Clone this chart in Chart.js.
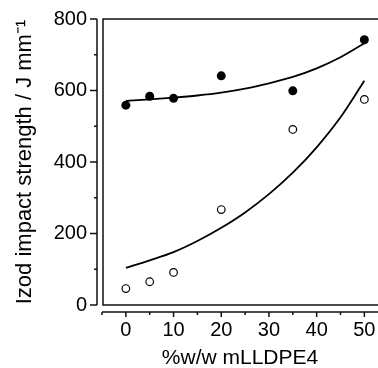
<!DOCTYPE html>
<html>
<head>
<meta charset="utf-8">
<script src="https://cdn.jsdelivr.net/npm/chart.js@4/dist/chart.umd.min.js"></script>
<style>
    html, body { margin: 0; padding: 0; background: #fff; }
    #wrap { width: 378px; height: 368px; }
</style>
</head>
<body>
<div id="wrap"><canvas id="izodChart" width="378" height="368"></canvas></div>
<script>
// measured points (filled = one series, open = the other)
const contentX = [0, 5, 10, 20, 35, 50];
const filledStrength = [559, 584, 578, 641, 599, 742];
const openStrength = [46, 65, 91, 267, 491, 575];

// fitted curves
const fitX = [0, 5, 10, 15, 20, 25, 30, 35, 40, 45, 50];
const fitUpper = [571, 575, 580, 586, 594, 605, 620, 638, 662, 693, 732];
const fitLower = [104, 125, 148, 179, 216, 259, 310, 370, 441, 525, 627];

// axis ticks
const xMajorTicks = [0, 10, 20, 30, 40, 50];
const xMinorTicks = [-5, 5, 15, 25, 35, 45];
const yMajorTicks = [0, 200, 400, 600, 800];
const yMinorTicks = [100, 300, 500, 700];

const xTitle = '%w/w mLLDPE4';
const yTitle = 'Izod impact strength / J mm\u207B\u00B9';

Chart.defaults.font.family = "'Liberation Sans', Arial, Helvetica, sans-serif";
Chart.defaults.color = '#000';

function toPoints(xs, ys) {
    return xs.map(function (x, i) { return { x: x, y: ys[i] }; });
}

// frame plus the offset axis lines and tick marks
const offsetAxes = {
    id: 'offsetAxes',
    afterDraw: function (chart) {
        const ctx = chart.ctx;
        const area = chart.chartArea;
        const xs = chart.scales.x;
        const ys = chart.scales.y;
        const spineX = area.left - 5;
        const spineY = area.bottom + 7;

        ctx.save();
        ctx.strokeStyle = '#111';
        ctx.lineWidth = 1.5;

        // box
        ctx.beginPath();
        ctx.moveTo(area.right, area.top);
        ctx.lineTo(area.left + 1, area.top);
        ctx.lineTo(area.left + 1, area.bottom);
        ctx.lineTo(area.right, area.bottom);
        ctx.stroke();

        // y spine
        ctx.beginPath();
        ctx.moveTo(spineX, ys.getPixelForValue(800));
        ctx.lineTo(spineX, ys.getPixelForValue(0));
        yMajorTicks.forEach(function (v) {
            const p = ys.getPixelForValue(v);
            ctx.moveTo(spineX, p);
            ctx.lineTo(spineX - 7, p);
        });
        yMinorTicks.forEach(function (v) {
            const p = ys.getPixelForValue(v);
            ctx.moveTo(spineX, p);
            ctx.lineTo(spineX - 3, p);
        });
        ctx.stroke();

        // x spine
        ctx.beginPath();
        ctx.moveTo(xs.getPixelForValue(-5), spineY);
        ctx.lineTo(area.right, spineY);
        xMajorTicks.forEach(function (v) {
            const p = xs.getPixelForValue(v);
            ctx.moveTo(p, spineY);
            ctx.lineTo(p, spineY + 5);
        });
        xMinorTicks.forEach(function (v) {
            const p = xs.getPixelForValue(v);
            ctx.moveTo(p, spineY);
            ctx.lineTo(p, spineY + 3);
        });
        ctx.stroke();
        ctx.restore();
    }
};

new Chart(document.getElementById('izodChart'), {
    type: 'scatter',
    data: {
        datasets: [
            {
                data: toPoints(contentX, filledStrength),
                pointRadius: 4.5,
                pointBackgroundColor: '#000',
                pointBorderColor: '#000',
                pointBorderWidth: 0,
                showLine: false
            },
            {
                data: toPoints(contentX, openStrength),
                pointRadius: 3.8,
                pointBackgroundColor: '#fff',
                pointBorderColor: '#000',
                pointBorderWidth: 1.2,
                showLine: false
            },
            {
                data: toPoints(fitX, fitUpper),
                showLine: true,
                borderColor: '#000',
                borderWidth: 1.8,
                pointRadius: 0,
                cubicInterpolationMode: 'monotone'
            },
            {
                data: toPoints(fitX, fitLower),
                showLine: true,
                borderColor: '#000',
                borderWidth: 1.8,
                pointRadius: 0,
                cubicInterpolationMode: 'monotone'
            }
        ]
    },
    options: {
        responsive: false,
        animation: false,
        layout: {
            autoPadding: false,
            padding: { top: 19, right: 0, bottom: 0, left: 0 }
        },
        plugins: {
            legend: { display: false },
            tooltip: { enabled: false }
        },
        scales: {
            x: {
                type: 'linear',
                min: -5,
                max: 52.86,
                afterBuildTicks: function (scale) {
                    scale.ticks = xMajorTicks.map(function (v) { return { value: v }; });
                },
                afterFit: function (scale) {
                    scale.height = 63;
                    scale.paddingLeft = 0;
                    scale.paddingRight = 0;
                },
                grid: { display: false, drawTicks: false },
                border: { display: false },
                ticks: { font: { size: 20 }, color: '#000', padding: 13, maxRotation: 0 },
                title: {
                    display: true,
                    text: xTitle,
                    font: { size: 21 },
                    color: '#000',
                    padding: { top: 0, bottom: -3 }
                }
            },
            y: {
                type: 'linear',
                min: 0,
                max: 800,
                afterBuildTicks: function (scale) {
                    scale.ticks = yMajorTicks.map(function (v) { return { value: v }; });
                },
                afterFit: function (scale) {
                    scale.width = 102;
                    scale.paddingTop = 0;
                    scale.paddingBottom = 0;
                },
                grid: { display: false, drawTicks: false },
                border: { display: false },
                ticks: { font: { size: 20 }, color: '#000', padding: 15 },
                title: {
                    display: true,
                    text: yTitle,
                    font: { size: 22 },
                    color: '#000',
                    padding: { top: 12, bottom: 0 }
                }
            }
        }
    },
    plugins: [offsetAxes]
});
</script>
</body>
</html>
